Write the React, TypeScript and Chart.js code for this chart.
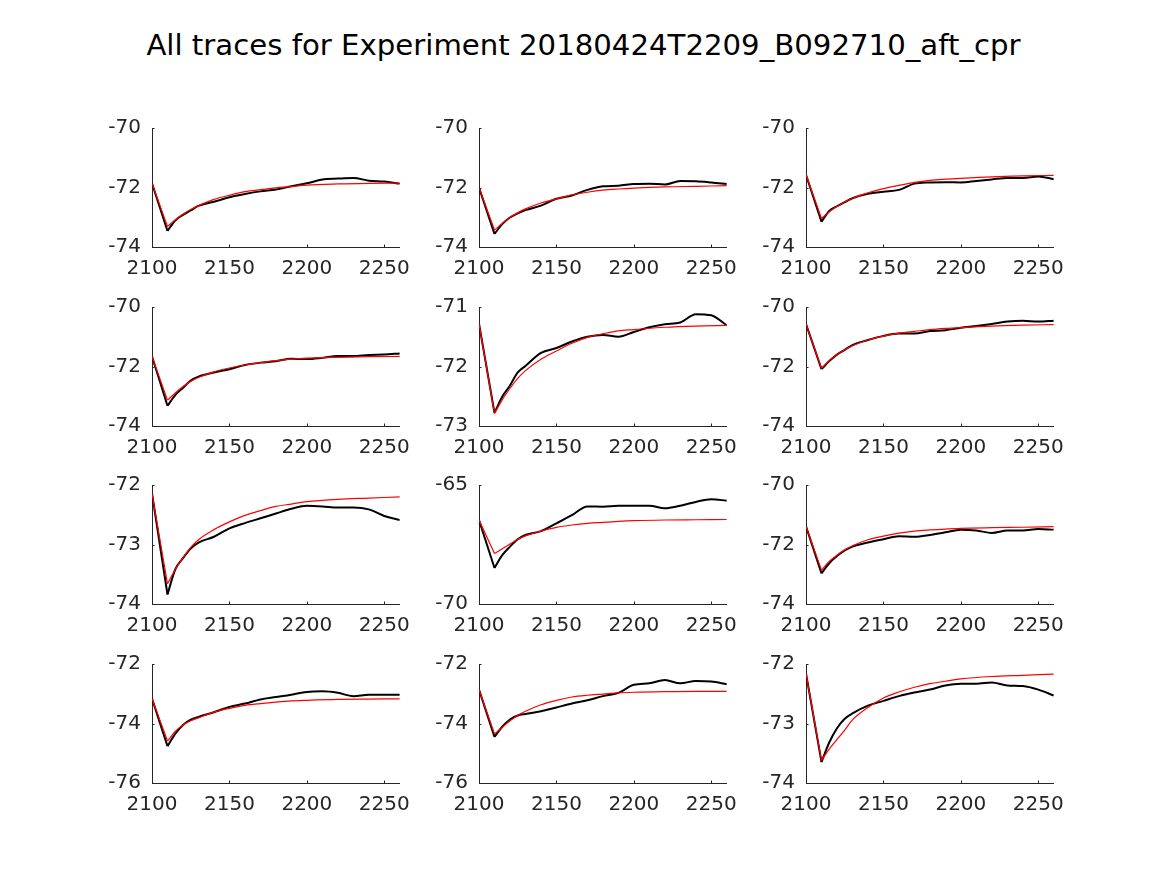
import React, { useEffect, useRef } from 'react';
import { Chart, registerables } from 'chart.js';

Chart.register(...registerables);

const TITLE = 'All traces for Experiment 20180424T2209_B092710_aft_cpr';
const X_MIN = 2100;
const X_MAX = 2260;
const X_TICKS = [2100, 2150, 2200, 2250];

const TRACE_T = [2100, 2110, 2115, 2120, 2125, 2130, 2140, 2150, 2160, 2170, 2180, 2190, 2200, 2210, 2220, 2230, 2240, 2250, 2260];
const FIT_T = [2100, 2110, 2115, 2120, 2125, 2130, 2140, 2150, 2160, 2170, 2180, 2190, 2200, 2220, 2240, 2260];

const trace1 = [-71.86, -73.46, -73.11, -72.92, -72.77, -72.62, -72.48, -72.33, -72.22, -72.13, -72.07, -71.96, -71.86, -71.73, -71.70, -71.68, -71.77, -71.80, -71.87];
const fit1 = [-71.86, -73.31, -73.09, -72.90, -72.74, -72.61, -72.40, -72.26, -72.14, -72.07, -72.01, -71.97, -71.92, -71.88, -71.86, -71.85];

const trace2 = [-72.0, -73.56, -73.23, -73.01, -72.87, -72.76, -72.61, -72.38, -72.27, -72.08, -71.96, -71.94, -71.88, -71.87, -71.90, -71.78, -71.79, -71.83, -71.88];
const fit2 = [-72.0, -73.43, -73.21, -73.01, -72.85, -72.72, -72.52, -72.38, -72.25, -72.16, -72.09, -72.05, -72.02, -71.98, -71.96, -71.94];

const trace3 = [-71.57, -73.15, -72.79, -72.63, -72.49, -72.36, -72.21, -72.14, -72.08, -71.87, -71.83, -71.82, -71.83, -71.78, -71.73, -71.68, -71.68, -71.63, -71.72];
const fit3 = [-71.57, -73.04, -72.82, -72.64, -72.49, -72.36, -72.18, -72.04, -71.93, -71.83, -71.76, -71.72, -71.69, -71.64, -71.61, -71.59];

const trace4 = [-71.66, -73.32, -72.96, -72.72, -72.47, -72.34, -72.20, -72.09, -71.95, -71.87, -71.82, -71.74, -71.75, -71.71, -71.65, -71.65, -71.61, -71.60, -71.56];
const fit4 = [-71.66, -73.13, -72.89, -72.67, -72.50, -72.37, -72.18, -72.05, -71.95, -71.87, -71.80, -71.75, -71.72, -71.69, -71.67, -71.66];

const trace5 = [-71.28, -72.78, -72.51, -72.32, -72.10, -71.99, -71.77, -71.69, -71.58, -71.50, -71.47, -71.50, -71.42, -71.34, -71.29, -71.26, -71.12, -71.14, -71.31];
const fit5 = [-71.28, -72.79, -72.56, -72.37, -72.20, -72.07, -71.88, -71.74, -71.61, -71.51, -71.45, -71.40, -71.38, -71.34, -71.32, -71.31];

const trace6 = [-70.57, -72.09, -71.82, -71.60, -71.44, -71.28, -71.11, -70.97, -70.89, -70.89, -70.81, -70.78, -70.70, -70.64, -70.57, -70.49, -70.46, -70.49, -70.46];
const fit6 = [-70.57, -72.06, -71.80, -71.60, -71.44, -71.30, -71.11, -70.98, -70.88, -70.82, -70.76, -70.72, -70.69, -70.64, -70.61, -70.59];

const trace7 = [-72.14, -73.84, -73.42, -73.23, -73.07, -72.97, -72.87, -72.73, -72.64, -72.56, -72.48, -72.40, -72.35, -72.36, -72.38, -72.38, -72.41, -72.52, -72.59];
const fit7 = [-72.14, -73.66, -73.42, -73.22, -73.05, -72.92, -72.75, -72.62, -72.51, -72.43, -72.36, -72.32, -72.28, -72.24, -72.22, -72.20];

const trace8 = [-66.47, -68.49, -67.95, -67.59, -67.28, -67.10, -66.94, -66.61, -66.27, -65.90, -65.91, -65.87, -65.87, -65.87, -65.98, -65.87, -65.71, -65.60, -65.66];
const fit8 = [-66.47, -67.88, -67.68, -67.48, -67.28, -67.14, -66.94, -66.78, -66.68, -66.61, -66.57, -66.53, -66.50, -66.47, -66.46, -66.45];

const trace9 = [-71.39, -72.97, -72.63, -72.39, -72.20, -72.07, -71.93, -71.82, -71.72, -71.74, -71.68, -71.59, -71.50, -71.53, -71.61, -71.53, -71.53, -71.48, -71.50];
const fit9 = [-71.39, -72.86, -72.57, -72.36, -72.18, -72.04, -71.84, -71.72, -71.62, -71.55, -71.51, -71.48, -71.46, -71.43, -71.42, -71.40];

const trace10 = [-73.16, -74.76, -74.35, -74.05, -73.87, -73.78, -73.62, -73.44, -73.33, -73.19, -73.11, -73.03, -72.94, -72.92, -72.97, -73.08, -73.03, -73.03, -73.03];
const fit10 = [-73.16, -74.59, -74.27, -74.05, -73.91, -73.81, -73.62, -73.49, -73.39, -73.33, -73.28, -73.24, -73.22, -73.19, -73.18, -73.17];

const trace11 = [-72.86, -74.45, -74.11, -73.87, -73.73, -73.68, -73.59, -73.46, -73.33, -73.22, -73.08, -72.97, -72.70, -72.65, -72.54, -72.65, -72.57, -72.59, -72.68];
const fit11 = [-72.86, -74.35, -74.13, -73.91, -73.73, -73.59, -73.37, -73.22, -73.11, -73.05, -73.01, -72.97, -72.95, -72.93, -72.92, -72.92];

const trace12 = [-72.16, -73.65, -73.32, -73.08, -72.92, -72.83, -72.70, -72.62, -72.54, -72.48, -72.43, -72.36, -72.33, -72.33, -72.31, -72.36, -72.37, -72.43, -72.53];
const fit12 = [-72.16, -73.62, -73.43, -73.27, -73.11, -72.94, -72.73, -72.57, -72.47, -72.39, -72.33, -72.29, -72.25, -72.21, -72.19, -72.17];

const TRACES = [trace1, trace2, trace3, trace4, trace5, trace6, trace7, trace8, trace9, trace10, trace11, trace12];
const FITS = [fit1, fit2, fit3, fit4, fit5, fit6, fit7, fit8, fit9, fit10, fit11, fit12];

const Y_TICKS = [
  [-74, -72, -70], [-74, -72, -70], [-74, -72, -70],
  [-74, -72, -70], [-73, -72, -71], [-74, -72, -70],
  [-74, -73, -72], [-70, -65], [-74, -72, -70],
  [-76, -74, -72], [-76, -74, -72], [-74, -73, -72],
];

// layout (pixels)
const PLOT_LEFTS = [152, 479, 806];
const PLOT_TOPS = [125, 304, 482, 661];
const PLOT_W = 249;
const PLOT_H = 122;
const PAD_L = 70;
const PAD_T = 20;
const PAD_R = 20;
const PAD_B = 45;
const FONT = 'DejaVu Sans';
const AXIS_COLOR = '#262626';
const RED = 'rgb(255,0,0)';
const BLACK = '#000000';

const inwardTicks = {
  id: 'inwardTicks',
  afterDraw(chart: any) {
    const { ctx, chartArea, scales } = chart;
    ctx.save();
    ctx.strokeStyle = AXIS_COLOR;
    ctx.lineWidth = 1;
    scales.x.ticks.forEach((t: any) => {
      const px = Math.round(scales.x.getPixelForValue(t.value)) + 0.5;
      ctx.beginPath();
      ctx.moveTo(px, chartArea.bottom);
      ctx.lineTo(px, chartArea.bottom - 2.5);
      ctx.stroke();
    });
    scales.y.ticks.forEach((t: any) => {
      const py = Math.round(scales.y.getPixelForValue(t.value)) + 0.5;
      ctx.beginPath();
      ctx.moveTo(chartArea.left, py);
      ctx.lineTo(chartArea.left + 2.5, py);
      ctx.stroke();
    });
    ctx.restore();
  },
};

function pts(ts: number[], vs: number[], from: number, to: number) {
  return ts.slice(from, to).map((t, i) => ({ x: t, y: vs[from + i] }));
}

function Panel({ index }: { index: number }) {
  const ref = useRef<HTMLCanvasElement>(null);
  const row = Math.floor(index / 3);
  const col = index % 3;
  const w = PAD_L + PLOT_W + PAD_R;
  const h = PAD_T + PLOT_H + PAD_B;
  const left = PLOT_LEFTS[col] - PAD_L;
  const top = PLOT_TOPS[row] - PAD_T;

  useEffect(() => {
    const yTicks = Y_TICKS[index];
    const fit = FITS[index];
    const trace = TRACES[index];
    const base = { pointRadius: 0, fill: false };
    const chart = new Chart(ref.current!, {
      type: 'line',
      data: {
        datasets: [
          { ...base, data: pts(FIT_T, fit, 0, 2), borderColor: RED, borderWidth: 1.2, tension: 0, order: 0 },
          { ...base, data: pts(FIT_T, fit, 1, FIT_T.length), borderColor: RED, borderWidth: 1.2, cubicInterpolationMode: 'monotone', order: 0 },
          { ...base, data: pts(TRACE_T, trace, 0, 2), borderColor: BLACK, borderWidth: 2, tension: 0, order: 1 },
          { ...base, data: pts(TRACE_T, trace, 1, TRACE_T.length), borderColor: BLACK, borderWidth: 2, cubicInterpolationMode: 'monotone', order: 1 },
        ] as any,
      },
      options: {
        responsive: false,
        animation: false,
        devicePixelRatio: 1,
        layout: { padding: { left: 0, top: PAD_T, right: PAD_R, bottom: 0 } },
        plugins: { legend: { display: false }, tooltip: { enabled: false }, title: { display: false } },
        scales: {
          x: {
            type: 'linear',
            min: X_MIN,
            max: X_MAX,
            grid: { display: false, drawTicks: false },
            border: { display: true, color: AXIS_COLOR, width: 1 },
            ticks: {
              color: AXIS_COLOR,
              font: { family: FONT, size: 20 },
              padding: 10,
              maxRotation: 0,
              autoSkip: false,
              callback: (v: any) => String(v),
            },
            afterBuildTicks: (s: any) => {
              s.ticks = X_TICKS.map((v) => ({ value: v }));
            },
            afterFit: (s: any) => {
              s.height = PAD_B;
            },
          },
          y: {
            type: 'linear',
            min: yTicks[0],
            max: yTicks[yTicks.length - 1],
            grid: { display: false, drawTicks: false },
            border: { display: true, color: AXIS_COLOR, width: 1 },
            ticks: {
              color: AXIS_COLOR,
              font: { family: FONT, size: 20 },
              padding: 11,
              autoSkip: false,
              callback: (v: any) => String(v),
            },
            afterBuildTicks: (s: any) => {
              s.ticks = yTicks.map((v) => ({ value: v }));
            },
            afterFit: (s: any) => {
              s.width = PAD_L;
            },
          },
        },
      } as any,
      plugins: [inwardTicks],
    });
    return () => chart.destroy();
  }, [index]);

  return (
    <canvas
      ref={ref}
      width={w}
      height={h}
      style={{ position: 'absolute', left, top, width: w, height: h }}
    />
  );
}

export default function App() {
  return (
    <div style={{ position: 'absolute', left: 0, top: 0, width: 1167, height: 875, background: '#ffffff', overflow: 'hidden' }}>
      <div
        style={{
          position: 'absolute',
          left: 0,
          top: 30,
          width: 1167,
          textAlign: 'center',
          fontFamily: FONT,
          fontSize: 29.2,
          lineHeight: '30px',
          color: '#000000',
          whiteSpace: 'nowrap',
        }}
      >
        {TITLE}
      </div>
      {Array.from({ length: 12 }, (_, i) => (
        <Panel key={i} index={i} />
      ))}
    </div>
  );
}
